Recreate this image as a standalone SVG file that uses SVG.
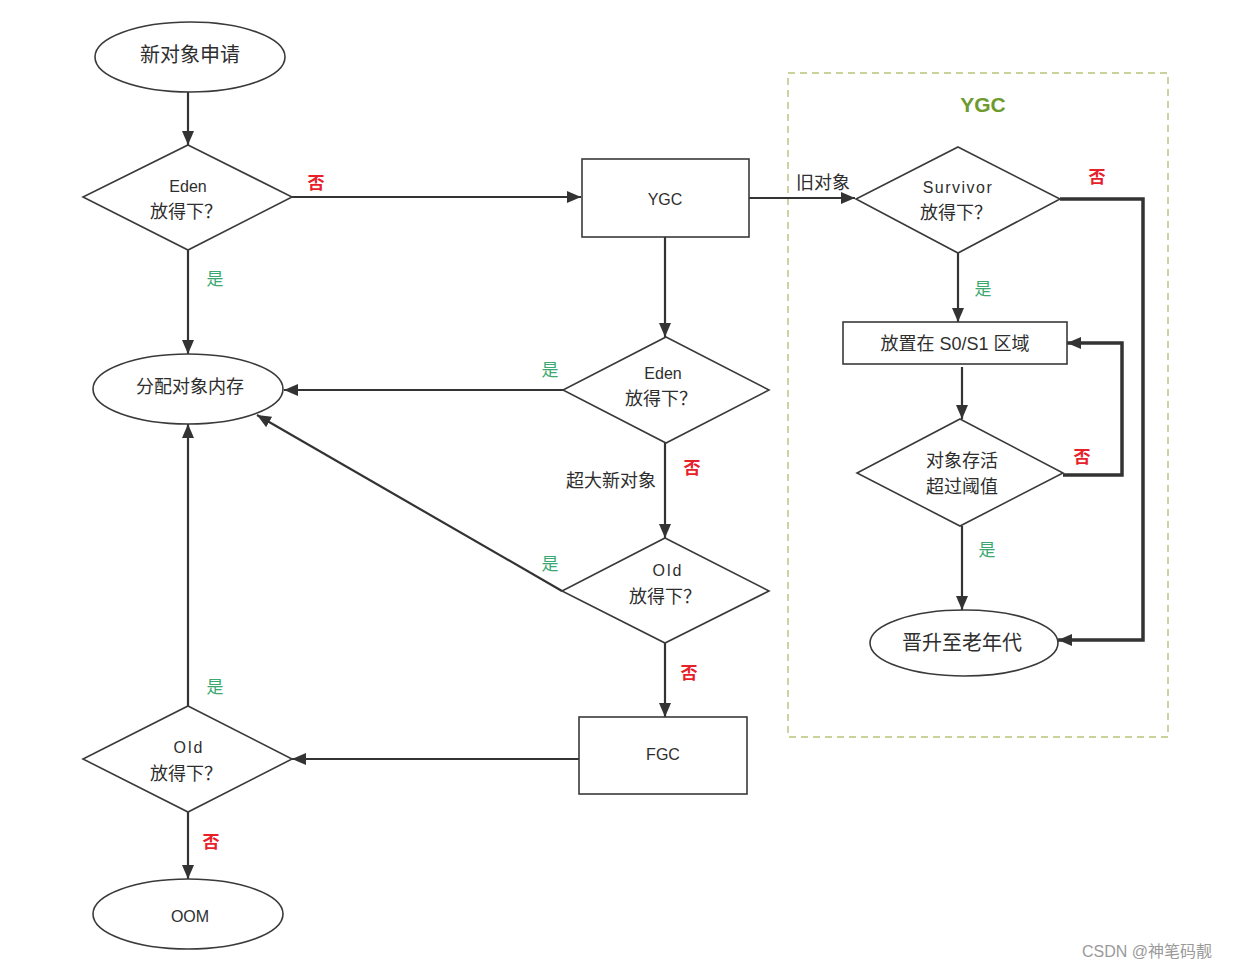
<svg xmlns="http://www.w3.org/2000/svg" width="1240" height="969" viewBox="0 0 1240 969">
<style>
.shape{fill:#fff;stroke:#3a3a3a;stroke-width:1.6}
.t{font-family:"Liberation Sans","Noto Sans CJK SC",sans-serif;font-size:18px;fill:#2e2e2e;text-anchor:middle;dominant-baseline:central}
.s{font-size:16px}
.e{stroke:#333;stroke-width:2.2;fill:none}
.b{stroke:#333;stroke-width:3.5;fill:none}
.no{font-family:"Noto Sans CJK SC",sans-serif;font-size:17px;font-weight:bold;fill:#e8202a;text-anchor:middle;dominant-baseline:central}
.yes{font-family:"Noto Sans CJK SC",sans-serif;font-size:17px;fill:#3aa870;text-anchor:middle;dominant-baseline:central}
</style>
<defs>
<marker id="a" viewBox="0 0 14 12" refX="14" refY="6" markerWidth="14" markerHeight="12" markerUnits="userSpaceOnUse" orient="auto"><path d="M0,0 L14,6 L0,12 z" fill="#333"/></marker>
</defs>
<rect width="1240" height="969" fill="#fff"/>
<rect x="788" y="73" width="380" height="664" fill="none" stroke="#b9c27a" stroke-width="1.4" stroke-dasharray="7,5"/>
<text x="983" y="104" class="t" style="font-weight:bold;font-size:21px;fill:#6e9a2e">YGC</text>
<g id="connectors">
<line class="e" x1="188" y1="92" x2="188" y2="145" marker-end="url(#a)"/>
<line class="e" x1="292" y1="197" x2="581" y2="197" marker-end="url(#a)"/>
<line class="e" x1="188" y1="250" x2="188" y2="354" marker-end="url(#a)"/>
<line class="e" x1="749" y1="198" x2="855" y2="198" marker-end="url(#a)"/>
<line class="e" x1="665" y1="237" x2="665" y2="337" marker-end="url(#a)"/>
<line class="e" x1="563" y1="390" x2="284" y2="390" marker-end="url(#a)"/>
<line class="e" x1="665" y1="443" x2="665" y2="538" marker-end="url(#a)"/>
<line class="e" x1="562" y1="591" x2="257" y2="415" marker-end="url(#a)"/>
<line class="e" x1="665" y1="643" x2="665" y2="717" marker-end="url(#a)"/>
<line class="e" x1="579" y1="759" x2="292" y2="759" marker-end="url(#a)"/>
<line class="e" x1="188" y1="706" x2="188" y2="424" marker-end="url(#a)"/>
<line class="e" x1="188" y1="812" x2="188" y2="879" marker-end="url(#a)"/>
<line class="e" x1="958" y1="253" x2="958" y2="322" marker-end="url(#a)"/>
<line class="e" x1="962" y1="367" x2="962" y2="419" marker-end="url(#a)"/>
<line class="e" x1="962" y1="526" x2="962" y2="610" marker-end="url(#a)"/>
<polyline class="b" points="1060,199 1143,199 1143,640 1058,640" marker-end="url(#a)"/>
<polyline class="b" points="1063,475 1122,475 1122,343 1067,343" marker-end="url(#a)"/>
<text x="316" y="181" class="no">否</text>
<text x="215" y="277" class="yes">是</text>
<text x="823" y="183" class="t">旧对象</text>
<text x="550" y="368" class="yes">是</text>
<text x="692" y="466" class="no">否</text>
<text x="611" y="481" class="t">超大新对象</text>
<text x="550" y="562" class="yes">是</text>
<text x="689" y="671" class="no">否</text>
<text x="215" y="685" class="yes">是</text>
<text x="211" y="840" class="no">否</text>
<text x="1097" y="175" class="no">否</text>
<text x="983" y="287" class="yes">是</text>
<text x="1082" y="455" class="no">否</text>
<text x="987" y="548" class="yes">是</text>
</g>
<g id="start"><ellipse class="shape" cx="190" cy="57" rx="95" ry="35"/><text x="190" y="55" class="t" style="font-size:20px">新对象申请</text></g>
<g id="eden1"><polygon class="shape" points="188,145 292,197 188,250 83,197"/><text x="188" y="186" class="t s">Eden</text><text x="186" y="212" class="t">放得下？</text></g>
<g id="ygc"><rect class="shape" x="582" y="159" width="167" height="78"/><text x="665" y="199" class="t s">YGC</text></g>
<g id="alloc"><ellipse class="shape" cx="188" cy="389" rx="95" ry="35"/><text x="190" y="387" class="t">分配对象内存</text></g>
<g id="eden2"><polygon class="shape" points="666,337 769,390 666,443 563,390"/><text x="663" y="373" class="t s">Eden</text><text x="661" y="399" class="t">放得下？</text></g>
<g id="old2"><polygon class="shape" points="665,538 769,591 665,643 562,591"/><text x="668" y="570" class="t s" style="letter-spacing:2px">Old</text><text x="665" y="597" class="t">放得下？</text></g>
<g id="fgc"><rect class="shape" x="579" y="717" width="168" height="77"/><text x="663" y="754" class="t s">FGC</text></g>
<g id="old3"><polygon class="shape" points="188,706 292,759 188,812 83,759"/><text x="189" y="747" class="t s" style="letter-spacing:2px">Old</text><text x="186" y="774" class="t">放得下？</text></g>
<g id="oom"><ellipse class="shape" cx="188" cy="914" rx="95" ry="35"/><text x="190" y="916" class="t s">OOM</text></g>
<g id="survivor"><polygon class="shape" points="958,147 1060,199 958,253 856,199"/><text x="958" y="187" class="t s" style="letter-spacing:1.5px">Survivor</text><text x="956" y="213" class="t">放得下？</text></g>
<g id="s0s1"><rect class="shape" x="843" y="322" width="224" height="42"/><text x="955" y="344" class="t">放置在 S0/S1 区域</text></g>
<g id="threshold"><polygon class="shape" points="960,419 1063,473 960,526 857,473"/><text x="962" y="461" class="t">对象存活</text><text x="962" y="487" class="t">超过阈值</text></g>
<g id="promote"><ellipse class="shape" cx="964" cy="643" rx="94" ry="33"/><text x="962" y="643" class="t" style="font-size:20px">晋升至老年代</text></g>
<text x="1147" y="951" class="t" style="font-size:16px;fill:#9a9a9a">CSDN @神笔码靓</text>
</svg>
